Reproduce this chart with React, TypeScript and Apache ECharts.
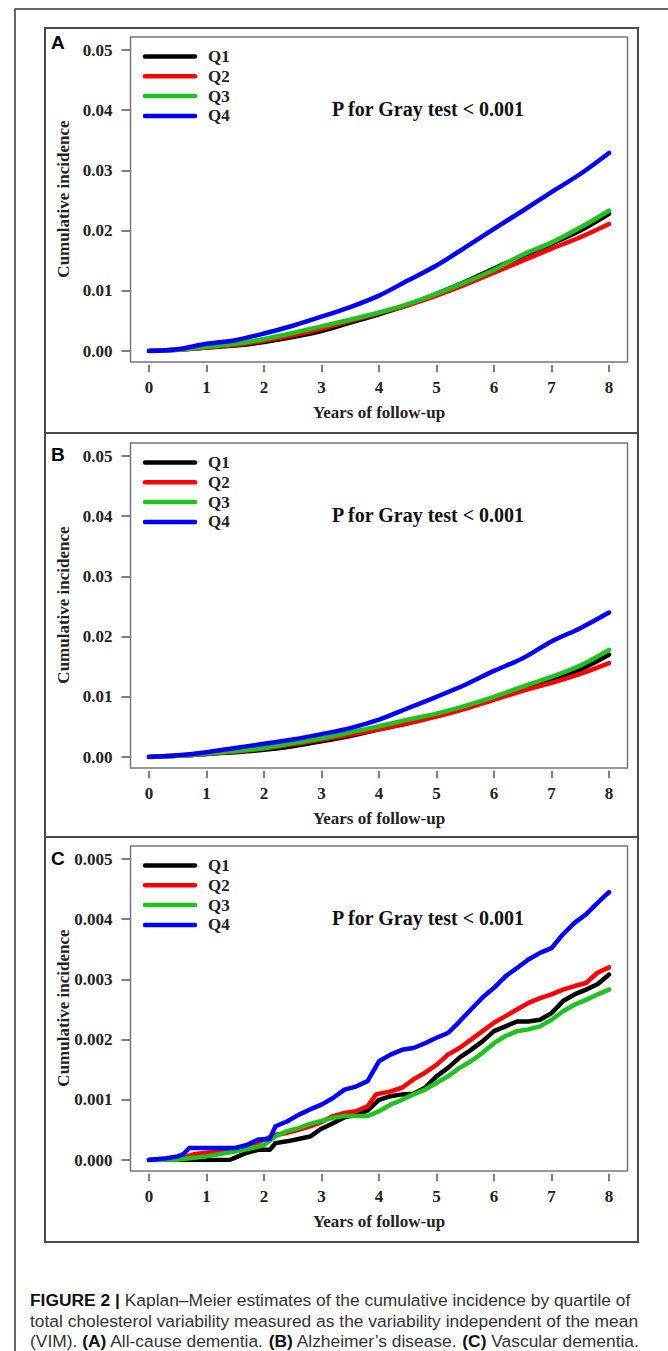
import React, { useEffect, useRef } from "react";
import * as echarts from "echarts";

// ---------- data ----------
const seriesNames = ["Q1", "Q2", "Q3", "Q4"];
const xTicks = [0, 1, 2, 3, 4, 5, 6, 7, 8];
const yearsAB = [0, 0.5, 1, 1.5, 2, 2.5, 3, 3.5, 4, 4.5, 5, 5.5, 6, 6.5, 7, 7.5, 8];

// Panel A: all-cause dementia
const aQ1 = [0, 0.0002, 0.0006, 0.0009, 0.0015, 0.0023, 0.0033, 0.0047, 0.0061, 0.0076, 0.0095, 0.0115, 0.0137, 0.0158, 0.0178, 0.02, 0.0228];
const aQ2 = [0, 0.0002, 0.0006, 0.001, 0.0017, 0.0026, 0.0037, 0.005, 0.0063, 0.0076, 0.0092, 0.011, 0.013, 0.015, 0.017, 0.0189, 0.0211];
const aQ3 = [0, 0.0002, 0.0007, 0.0012, 0.002, 0.003, 0.0041, 0.0052, 0.0064, 0.0078, 0.0095, 0.0114, 0.0135, 0.016, 0.018, 0.0205, 0.0233];
const aQ4 = [0, 0.0003, 0.0012, 0.0018, 0.0029, 0.0042, 0.0057, 0.0073, 0.0092, 0.0117, 0.0142, 0.0172, 0.0203, 0.0233, 0.0264, 0.0294, 0.0329];

// Panel B: Alzheimer's disease
const bQ1 = [0, 0.0002, 0.0005, 0.0008, 0.0012, 0.0018, 0.0026, 0.0035, 0.0046, 0.0056, 0.0068, 0.0082, 0.0097, 0.0112, 0.0128, 0.0145, 0.017];
const bQ2 = [0, 0.0002, 0.0005, 0.0009, 0.0014, 0.0021, 0.0029, 0.0037, 0.0046, 0.0056, 0.0067, 0.008, 0.0095, 0.011, 0.0123, 0.0138, 0.0156];
const bQ3 = [0, 0.0002, 0.0006, 0.001, 0.0015, 0.0023, 0.0031, 0.0041, 0.0051, 0.0062, 0.0072, 0.0085, 0.01, 0.0117, 0.0133, 0.0152, 0.0178];
const bQ4 = [0, 0.0003, 0.0008, 0.0015, 0.0022, 0.0029, 0.0038, 0.0048, 0.0062, 0.0081, 0.01, 0.012, 0.0143, 0.0164, 0.0192, 0.0214, 0.024];

// Panel C: vascular dementia ([year, incidence])
const cQ1: [number, number][] = [
  [0, 0], [1.0, 0], [1.4, 0], [1.5, 0.00004], [1.7, 0.00012], [1.9, 0.00017], [2.1, 0.00017], [2.2, 0.00028], [2.4, 0.00031],
  [2.6, 0.00035], [2.8, 0.00039], [3.0, 0.00052], [3.2, 0.00061], [3.4, 0.00071], [3.6, 0.00075], [3.8, 0.00082], [4.0, 0.001],
  [4.2, 0.00106], [4.4, 0.00109], [4.6, 0.0011], [4.8, 0.0012], [5.0, 0.00139], [5.2, 0.00153], [5.4, 0.0017], [5.6, 0.00183],
  [5.8, 0.00197], [6.0, 0.00214], [6.2, 0.00222], [6.4, 0.0023], [6.6, 0.0023], [6.8, 0.00233], [7.0, 0.00244], [7.2, 0.00264],
  [7.4, 0.00275], [7.6, 0.00283], [7.8, 0.00292], [8.0, 0.00308],
];
const cQ2: [number, number][] = [
  [0, 0], [0.5, 0.00001], [0.8, 0.0001], [1.0, 0.00012], [1.5, 0.00017], [1.8, 0.00025], [2.0, 0.00034], [2.2, 0.00042],
  [2.4, 0.00045], [2.6, 0.0005], [2.8, 0.00056], [3.0, 0.00063], [3.2, 0.00073], [3.4, 0.00078], [3.6, 0.00081], [3.8, 0.00089],
  [3.95, 0.00109], [4.2, 0.00114], [4.4, 0.0012], [4.6, 0.00134], [4.8, 0.00145], [5.0, 0.00158], [5.2, 0.00175], [5.4, 0.00186],
  [5.6, 0.002], [5.8, 0.00214], [6.0, 0.00228], [6.2, 0.00239], [6.4, 0.0025], [6.6, 0.00261], [6.8, 0.00269], [7.0, 0.00275],
  [7.2, 0.00283], [7.4, 0.00289], [7.6, 0.00294], [7.8, 0.00311], [8.0, 0.0032],
];
const cQ3: [number, number][] = [
  [0, 0], [0.5, 0.00001], [1.0, 0.00006], [1.5, 0.00014], [1.8, 0.0002], [2.0, 0.00025], [2.2, 0.00039], [2.4, 0.00048],
  [2.6, 0.00053], [2.8, 0.0006], [3.0, 0.00065], [3.2, 0.0007], [3.4, 0.00073], [3.6, 0.00073], [3.8, 0.00073], [4.0, 0.00081],
  [4.2, 0.00092], [4.4, 0.001], [4.6, 0.00109], [4.8, 0.00117], [5.0, 0.00128], [5.2, 0.00139], [5.4, 0.00153], [5.6, 0.00164],
  [5.8, 0.00178], [6.0, 0.00194], [6.2, 0.00206], [6.4, 0.00214], [6.6, 0.00217], [6.8, 0.00222], [7.0, 0.00233], [7.2, 0.00247],
  [7.4, 0.00258], [7.6, 0.00266], [7.8, 0.00275], [8.0, 0.00283],
];
const cQ4: [number, number][] = [
  [0, 0], [0.3, 0.00003], [0.5, 0.00006], [0.6, 0.0001], [0.7, 0.0002], [1.0, 0.0002], [1.5, 0.0002], [1.7, 0.00025],
  [1.9, 0.00034], [2.1, 0.00035], [2.2, 0.00056], [2.4, 0.00064], [2.6, 0.00075], [2.8, 0.00084], [3.0, 0.00092], [3.2, 0.00103],
  [3.4, 0.00117], [3.6, 0.00122], [3.8, 0.00131], [4.0, 0.00164], [4.2, 0.00175], [4.4, 0.00183], [4.6, 0.00186], [4.8, 0.00194],
  [5.0, 0.00203], [5.2, 0.00211], [5.4, 0.0023], [5.6, 0.0025], [5.8, 0.0027], [6.0, 0.00286], [6.2, 0.00305], [6.4, 0.00319],
  [6.6, 0.00333], [6.8, 0.00344], [7.0, 0.00352], [7.2, 0.00375], [7.4, 0.00394], [7.6, 0.00408], [7.8, 0.00427], [8.0, 0.00445],
];

const panelLetters = ["A", "B", "C"];
const yMaxes = [0.05, 0.05, 0.005];
const yIntervals = [0.01, 0.01, 0.001];
const yDecimals = [2, 2, 3];
const pText = "P for Gray test < 0.001";
const xTitle = "Years of follow-up";
const yTitle = "Cumulative incidence";
const captionLines = [
  "{b|FIGURE 2 |} Kaplan–Meier estimates of the cumulative incidence by quartile of",
  "total cholesterol variability measured as the variability independent of the mean",
  "(VIM). {b|(A)} All-cause dementia. {b|(B)} Alzheimer’s disease. {b|(C)} Vascular dementia.",
];

// ---------- styles / layout ----------
const colors = ["#000000", "#ff0000", "#1ec31e", "#0000ff"];
const SERIF = "'Liberation Serif', 'Times New Roman', serif";
const SANS = "'Liberation Sans', Arial, sans-serif";
const W = 668;
const H = 1351;
const plotTops = [37, 443, 846];
const letterY = [42, 454, 858];
const boxL = 130.5;
const boxR = 627.5;
const boxH = 325;
const gridL = 149;
const gridR = 609;

const toPairs = (xs: number[], ys: number[]) => xs.map((x, i) => [x, ys[i]]);

export default function App() {
  const ref = useRef<HTMLDivElement>(null);
  useEffect(() => {
    if (!ref.current) return;
    const chart = echarts.init(ref.current, null, { renderer: "svg", width: W, height: H });

    const panelData = [
      [aQ1, aQ2, aQ3, aQ4].map((ys) => toPairs(yearsAB, ys)),
      [bQ1, bQ2, bQ3, bQ4].map((ys) => toPairs(yearsAB, ys)),
      [cQ1, cQ2, cQ3, cQ4],
    ];

    const tickLabelStyle = {
      fontFamily: SERIF,
      fontWeight: "bold" as const,
      fontSize: 17,
      color: "#222",
    };

    const grid: any[] = [];
    const xAxis: any[] = [];
    const yAxis: any[] = [];
    const series: any[] = [];
    const graphic: any[] = [];

    // outer frame
    graphic.push({ type: "line", shape: { x1: 15, y1: 9, x2: W, y2: 9 }, style: { stroke: "#333", lineWidth: 1.5 } });
    graphic.push({ type: "line", shape: { x1: 15, y1: 9, x2: 15, y2: H }, style: { stroke: "#333", lineWidth: 1.5 } });
    // panel frames
    graphic.push({ type: "rect", shape: { x: 45, y: 28, width: 593, height: 1214 }, style: { fill: "none", stroke: "#4a4a4a", lineWidth: 2 } });
    graphic.push({ type: "line", shape: { x1: 45, y1: 433, x2: 638, y2: 433 }, style: { stroke: "#4a4a4a", lineWidth: 2 } });
    graphic.push({ type: "line", shape: { x1: 45, y1: 837, x2: 638, y2: 837 }, style: { stroke: "#4a4a4a", lineWidth: 2 } });

    plotTops.forEach((T, i) => {
      grid.push({ left: gridL, top: T + 13, width: gridR - gridL, height: 301, containLabel: false });
      xAxis.push({
        gridIndex: i,
        type: "value",
        min: 0,
        max: 8,
        interval: 1,
        position: "bottom",
        offset: 14,
        axisLine: { show: false, onZero: false },
        axisTick: { show: true, length: 7, lineStyle: { color: "#555", width: 1.5 } },
        axisLabel: { margin: 14, ...tickLabelStyle, customValues: xTicks },
        splitLine: { show: false },
      });
      const dec = yDecimals[i];
      yAxis.push({
        gridIndex: i,
        type: "value",
        min: 0,
        max: yMaxes[i],
        interval: yIntervals[i],
        position: "left",
        offset: gridL - boxL,
        axisLine: { show: false, onZero: false },
        axisTick: { show: true, length: 9, lineStyle: { color: "#555", width: 1.5 } },
        axisLabel: { margin: 18, ...tickLabelStyle, formatter: (v: number) => v.toFixed(dec) },
        splitLine: { show: false },
      });
      panelData[i].forEach((d, k) => {
        series.push({
          type: "line",
          name: seriesNames[k],
          xAxisIndex: i,
          yAxisIndex: i,
          data: d,
          symbol: "none",
          smooth: i < 2 ? 0.3 : false,
          lineStyle: { color: colors[k], width: 4.5, cap: "round", join: "round" },
          itemStyle: { color: colors[k] },
          z: 3 + k,
        });
      });
      // legend (key lines + labels)
      seriesNames.forEach((nm, k) => {
        const y = T + 19.5 + k * 19.8;
        graphic.push({ type: "line", shape: { x1: 145, y1: y, x2: 195, y2: y }, style: { stroke: colors[k], lineWidth: 4.5, lineCap: "round" }, z: 20 });
        graphic.push({ type: "text", x: 208, y, style: { text: nm, font: `bold 17px ${SERIF}`, fill: "#222", align: "left", verticalAlign: "middle" }, z: 20 });
      });
      // plot box
      graphic.push({ type: "rect", shape: { x: boxL, y: T, width: boxR - boxL, height: boxH }, style: { fill: "none", stroke: "#777", lineWidth: 1.5 }, z: 10 });
      // panel letter
      graphic.push({ type: "text", x: 51, y: letterY[i], style: { text: panelLetters[i], font: `bold 19px ${SANS}`, fill: "#000", align: "left", verticalAlign: "middle" } });
      // y title
      graphic.push({ type: "text", x: 63, y: T + 162, rotation: Math.PI / 2, style: { text: yTitle, font: `bold 17px ${SERIF}`, fill: "#222", align: "center", verticalAlign: "middle" } });
      // x title
      graphic.push({ type: "text", x: (gridL + gridR) / 2, y: T + 375, style: { text: xTitle, font: `bold 17px ${SERIF}`, fill: "#222", align: "center", verticalAlign: "middle" } });
      // p text
      graphic.push({ type: "text", x: 428, y: T + 72, style: { text: pText, font: `bold 20px ${SERIF}`, fill: "#111", align: "center", verticalAlign: "middle" } });
    });

    const capY = [1300, 1321, 1341];
    captionLines.forEach((line, i) => {
      graphic.push({
        type: "text",
        x: 30,
        y: capY[i],
        style: {
          text: line,
          fontFamily: SANS,
          fontSize: 17.4,
          fill: "#333",
          align: "left",
          verticalAlign: "middle",
          rich: { b: { fontFamily: SANS, fontSize: 17.4, fontWeight: "bold", fill: "#111" } },
        },
      });
    });

    chart.setOption({
      animation: false,
      backgroundColor: "#ffffff",
      grid,
      xAxis,
      yAxis,
      series,
      graphic,
    });
    return () => chart.dispose();
  }, []);

  return <div ref={ref} style={{ position: "absolute", left: 0, top: 0, width: W, height: H }} />;
}
